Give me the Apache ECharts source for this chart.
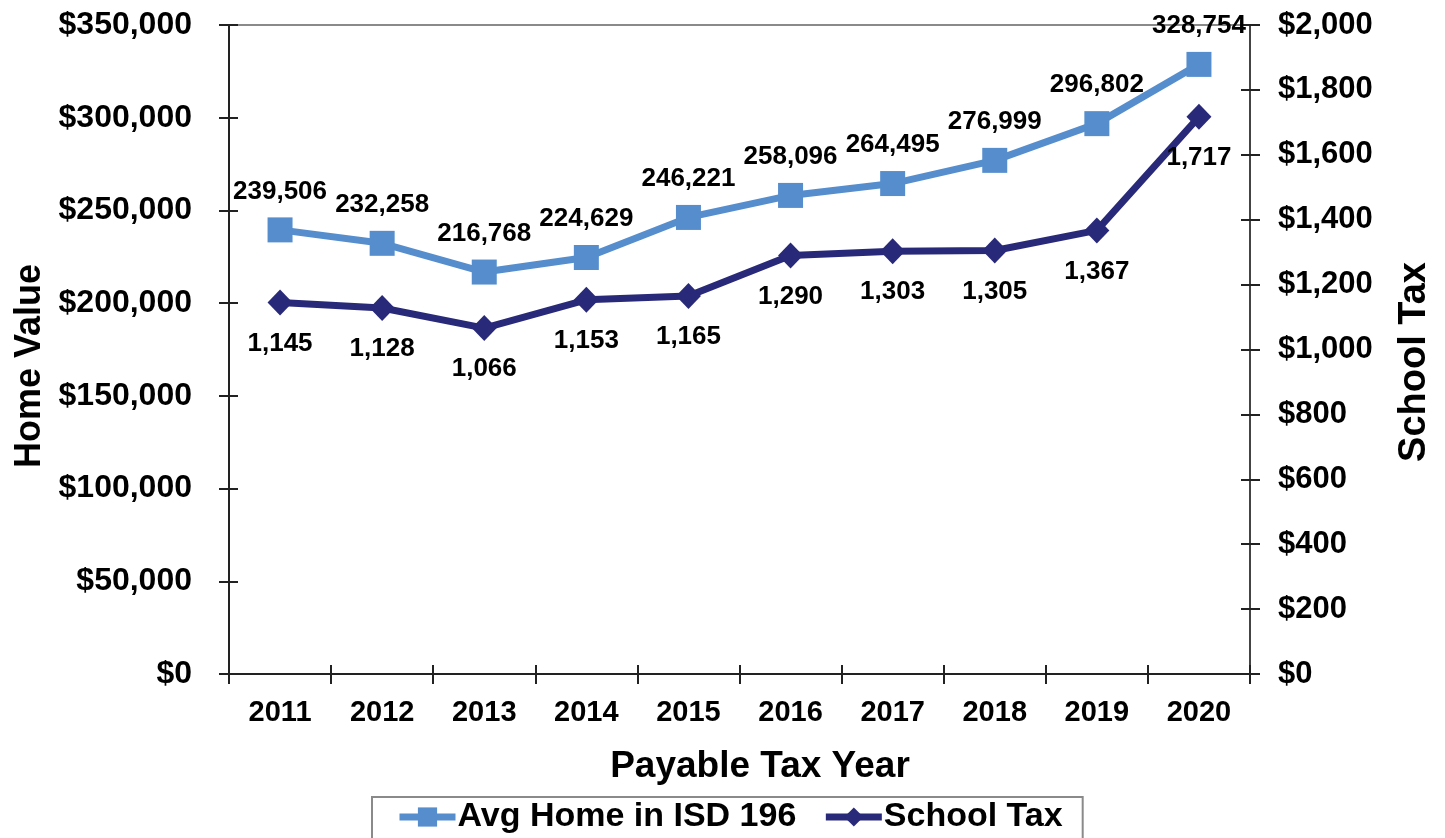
<!DOCTYPE html>
<html>
<head>
<meta charset="utf-8">
<script src="https://cdn.jsdelivr.net/npm/echarts@6/dist/echarts.min.js"></script>
<style>
  html, body { margin: 0; padding: 0; background: #fff; }
  #chart { width: 1445px; height: 838px; }
</style>
</head>
<body>
<div id="chart"></div>
<script>
// Payable tax years
const years = ['2011', '2012', '2013', '2014', '2015', '2016', '2017', '2018', '2019', '2020'];
// Average home value in ISD 196 (left axis, dollars)
const homeValues = [239506, 232258, 216768, 224629, 246221, 258096, 264495, 276999, 296802, 328754];
// School tax on that home (right axis, dollars)
const schoolTax = [1145, 1128, 1066, 1153, 1165, 1290, 1303, 1305, 1367, 1717];

const FONT = '"Liberation Sans", Arial, sans-serif';
const HOME_COLOR = '#568ECD';
const TAX_COLOR = '#29297A';

const fmt = v => v.toLocaleString('en-US');
const money = v => '$' + v.toLocaleString('en-US');

const chart = echarts.init(document.getElementById('chart'));

const tickStyle = { color: '#222', width: 2 };
const titleStyle = { fontFamily: FONT, fontWeight: 'bold', fill: '#000' };

chart.setOption({
  animation: false,
  textStyle: { fontFamily: FONT },
  grid: {
    left: 229, right: 195, top: 25, bottom: 164,
    show: true, borderColor: '#8a8a8a', borderWidth: 2, backgroundColor: 'transparent'
  },
  // axis titles
  graphic: [
    {
      type: 'text', x: 760, y: 767,
      style: Object.assign({ text: 'Payable Tax Year', fontSize: 37, align: 'center', verticalAlign: 'middle' }, titleStyle)
    },
    {
      type: 'text', x: 30, y: 366, rotation: Math.PI / 2,
      style: Object.assign({ text: 'Home Value', fontSize: 36, align: 'center', verticalAlign: 'middle' }, titleStyle)
    },
    {
      type: 'text', x: 1415, y: 362, rotation: Math.PI / 2,
      style: Object.assign({ text: 'School Tax', fontSize: 38, align: 'center', verticalAlign: 'middle' }, titleStyle)
    }
  ],
  legend: {
    left: 372, top: 797,
    padding: [3, 20, 10, 24],
    borderColor: '#8a8a8a', borderWidth: 2,
    itemWidth: 56, itemHeight: 24, itemGap: 26,
    lineStyle: { width: 7 },
    textStyle: { fontFamily: FONT, fontWeight: 'bold', fontSize: 34, color: '#000', padding: [0, 0, 0, -3] },
    data: ['Avg Home in ISD 196', 'School Tax']
  },
  xAxis: [
    {
      type: 'category', data: years, boundaryGap: true,
      axisLine: { lineStyle: { color: '#222', width: 2 } },
      axisTick: { show: true, length: 10, lineStyle: tickStyle },
      axisLabel: { fontFamily: FONT, fontWeight: 'bold', fontSize: 29, color: '#000', margin: 24 },
      splitLine: { show: false }
    },
    {
      // inner half of the category ticks
      type: 'category', data: years, boundaryGap: true, position: 'bottom',
      axisLine: { show: false },
      axisTick: { show: true, inside: true, length: 9, lineStyle: tickStyle },
      axisLabel: { show: false },
      splitLine: { show: false }
    }
  ],
  yAxis: [
    {
      type: 'value', min: 0, max: 350000, interval: 50000, position: 'left',
      axisLine: { show: true, lineStyle: { color: '#222', width: 2 } },
      axisTick: { show: true, length: 10, lineStyle: tickStyle },
      axisLabel: { fontFamily: FONT, fontWeight: 'bold', fontSize: 32, color: '#000', margin: 37, formatter: money },
      splitLine: { show: false }
    },
    {
      type: 'value', min: 0, max: 2000, interval: 200, position: 'right',
      axisLine: { show: true, lineStyle: { color: '#444', width: 2 } },
      axisTick: { show: true, length: 10, lineStyle: tickStyle },
      axisLabel: { fontFamily: FONT, fontWeight: 'bold', fontSize: 31, color: '#000', margin: 28, formatter: money },
      splitLine: { show: false }
    },
    {
      // inner half of the left ticks
      type: 'value', min: 0, max: 350000, interval: 50000, position: 'left',
      axisLine: { show: false },
      axisTick: { show: true, inside: true, length: 9, lineStyle: tickStyle },
      axisLabel: { show: false },
      splitLine: { show: false }
    },
    {
      // inner half of the right ticks
      type: 'value', min: 0, max: 2000, interval: 200, position: 'right',
      axisLine: { show: false },
      axisTick: { show: true, inside: true, length: 9, lineStyle: tickStyle },
      axisLabel: { show: false },
      splitLine: { show: false }
    }
  ],
  series: [
    {
      name: 'Avg Home in ISD 196', type: 'line', xAxisIndex: 0, yAxisIndex: 0,
      data: homeValues,
      symbol: 'rect', symbolSize: 25,
      lineStyle: { color: HOME_COLOR, width: 7 },
      itemStyle: { color: HOME_COLOR },
      label: {
        show: true, position: 'top', distance: 13,
        fontFamily: FONT, fontWeight: 'bold', fontSize: 26, color: '#000',
        formatter: p => fmt(p.value)
      },
      z: 3
    },
    {
      name: 'School Tax', type: 'line', xAxisIndex: 0, yAxisIndex: 1,
      data: schoolTax,
      symbol: 'diamond', symbolSize: [25, 26],
      lineStyle: { color: TAX_COLOR, width: 7 },
      itemStyle: { color: TAX_COLOR },
      label: {
        show: true, position: 'bottom', distance: 15,
        fontFamily: FONT, fontWeight: 'bold', fontSize: 26, color: '#000',
        formatter: p => fmt(p.value)
      },
      z: 4
    }
  ]
});
</script>
</body>
</html>
